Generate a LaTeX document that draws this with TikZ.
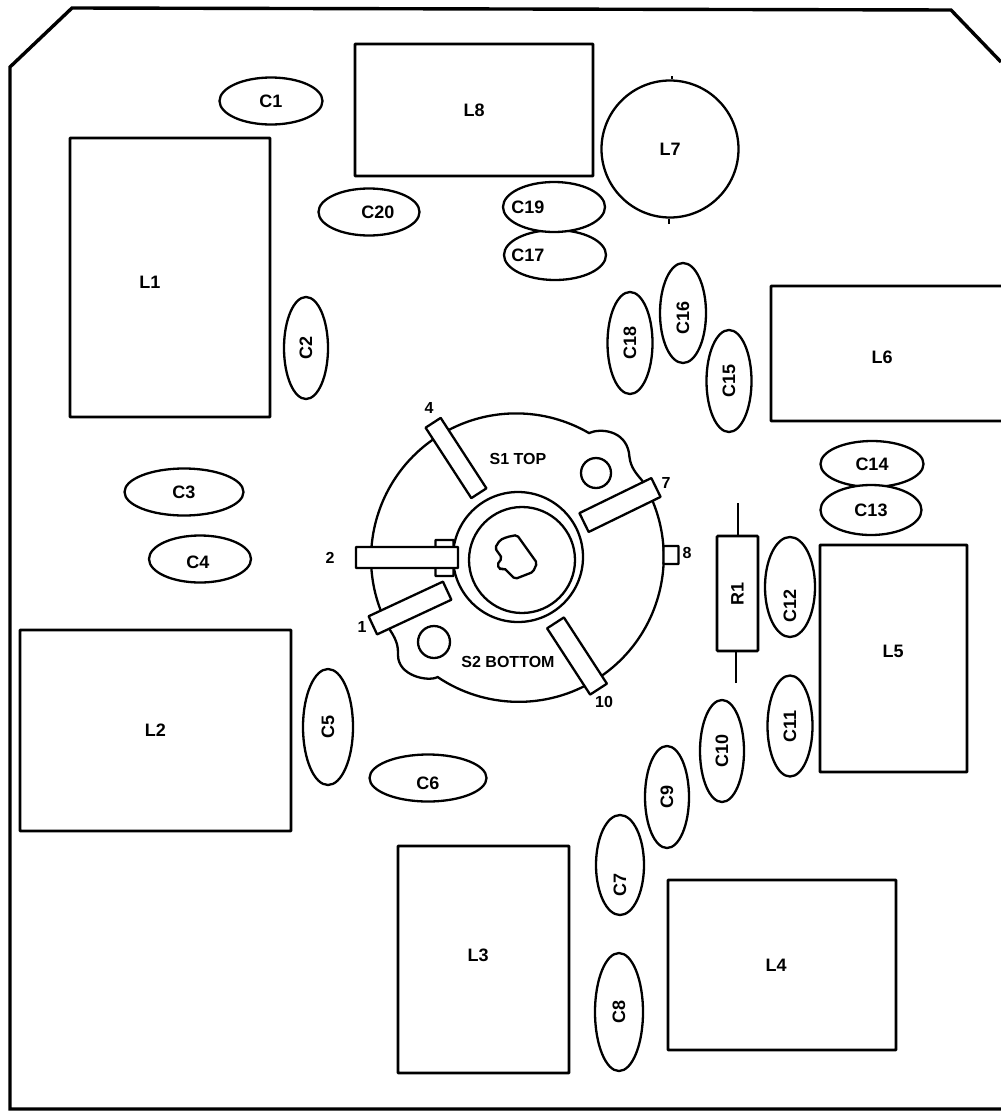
\documentclass[tikz,border=0pt]{standalone}
\usepackage{fontspec}
\setmainfont{Liberation Sans}
\usetikzlibrary{shapes.geometric}
\begin{document}
\begin{tikzpicture}[x=1pt,y=-1pt,
      line width=2.3pt,
      every node/.append style={font=\fontsize{18}{20}\selectfont\bfseries,inner sep=0pt,align=center},
      coil/.style={draw,rectangle,fill=white,line width=2.7pt,rounded corners=0.5pt},
      capa/.style={draw,ellipse,fill=white},
      lug/.style={draw,rectangle,fill=white,rounded corners=0.5pt},
      swtext/.style={font=\fontsize{16}{18}\selectfont\bfseries}]
      \useasboundingbox (0,0) rectangle (1001,1111);
      % board outline
         \draw[line width=3.4pt] (1001,62)--(951,10)--(72,8)--(10,67)--(10,1109)--(1001,1109);
      % coils
         \node (L8) at (474,110) [coil,minimum width=238,minimum height=132]{L8};
         \node (L1) at (170,277.5) [coil,minimum width=200,minimum height=279]{};
         \node (L1text) at (150,282) {L1};
         \node (L6) at (887,353.5) [coil,minimum width=232,minimum height=135]{};
         \node (L6text) at (882,357) {L6};
         \node (L5) at (893.5,658.5) [coil,minimum width=147,minimum height=227]{};
         \node (L5text) at (893,651) {L5};
         \node (L2) at (155.5,730.5) [coil,minimum width=271,minimum height=201]{L2};
         \node (L3) at (483.5,959.5) [coil,minimum width=171,minimum height=227]{};
         \node (L3text) at (478,955) {L3};
         \node (L4) at (782,965) [coil,minimum width=228,minimum height=170]{};
         \node (L4text) at (776,965) {L4};
         \node (L7) at (670,149) [draw,circle,minimum size=137]{L7};
         \coordinate (L7top) at (672,76);
         \coordinate (L7bot) at (669,224);
         \draw (L7top)--(L7top |- L7.north);
         \draw (L7bot)--(L7bot |- L7.south);
      % resistor
         \node (R1) at (737.5,593.5) [coil,rotate=90,minimum width=115,minimum height=41,rounded corners=1pt]{R1};
         \coordinate (R1top) at (738,503);
         \coordinate (R1bot) at (736,683);
         \draw[line width=1.6pt] (R1top)--(R1top |- R1.east);
         \draw[line width=1.6pt] (R1bot)--(R1bot |- R1.west);
      % capacitors
         \node (C1) at (271,101) [capa,minimum width=103,minimum height=47]{C1};
         \node (C20) at (369,212) [capa,minimum width=101,minimum height=47]{};
         \node (C20text) at (378,212) {C20};
         \node (C17) at (555,255) [capa,minimum width=102,minimum height=50]{};
         \node (C17text) at (528,255) {C17};
         \node (C19) at (554,207) [capa,minimum width=102,minimum height=50]{};
         \node (C19text) at (528,207) {C19};
         \node (C2) at (306,348) [capa,rotate=90,minimum width=102,minimum height=44]{C2};
         \node (C18) at (630,343) [capa,rotate=90,minimum width=102,minimum height=45]{C18};
         \node (C15) at (729,381) [capa,rotate=90,minimum width=102,minimum height=45]{C15};
         \node (C16) at (683,313) [capa,rotate=90,minimum width=100,minimum height=46]{};
         \node (C16text) at (683,318) [rotate=90]{C16};
         \node (C14) at (872,464) [capa,minimum width=103,minimum height=46]{C14};
         \node (C13) at (871,510) [capa,minimum width=101,minimum height=50]{C13};
         \node (C12) at (790,587) [capa,rotate=90,minimum width=100,minimum height=50]{};
         \node (C12text) at (790,606) [rotate=90]{C12};
         \node (C11) at (790,726) [capa,rotate=90,minimum width=101,minimum height=45]{C11};
         \node (C10) at (722,751) [capa,rotate=90,minimum width=102,minimum height=44]{C10};
         \node (C9) at (667,797) [capa,rotate=90,minimum width=102,minimum height=44]{C9};
         \node (C7) at (620,865) [capa,rotate=90,minimum width=100,minimum height=48]{};
         \node (C7text) at (620,885) [rotate=90]{C7};
         \node (C8) at (619,1012) [capa,rotate=90,minimum width=118,minimum height=48]{C8};
         \node (C5) at (328,727) [capa,rotate=90,minimum width=116,minimum height=50]{C5};
         \node (C6) at (428,778) [capa,minimum width=117,minimum height=47]{};
         \node (C6text) at (428,783) {C6};
         \node (C3) at (184,492) [capa,minimum width=119,minimum height=47]{C3};
         \node (C4) at (200,559) [capa,minimum width=102,minimum height=47]{};
         \node (C4text) at (198,562) {C4};
      %
      % switch body, two lobes
         \draw (641.7,480) arc[start angle=-32,end angle=124,radius=145]
            .. controls (428,682) and (398,676) .. (398,655)
            .. controls (398,648) and (398,642) .. (390,630)
            arc[start angle=150.4,end angle=300.2,radius=145]
            .. controls (600,428) and (625,430) .. (629,453)
            .. controls (630,465) and (633,470) .. (641.7,480);
         \node (hole1) at (596,473) [draw,circle,minimum size=30]{};
         \node (hole2) at (434,642) [draw,circle,minimum size=32]{};
         \node (ring) at (518,557) [draw,circle,minimum size=130]{};
         \node (shaft) at (522,560) [draw,circle,minimum size=106]{};
         \draw[rounded corners=2pt] (495,548)--(500,540)--(507,537)--(517,535)--(537,563)--(533,572)--(515,579)--(504,568)--(501,570)--(497,565)--(502,558)--cycle;
      % lugs
         \node (stub) at (444.5,558) [lug,minimum width=18,minimum height=36]{};
         \node (lug2) at (407,557.5) [lug,minimum width=102,minimum height=21]{};
         \node (lug4) at (456,458) [lug,rotate=-57,minimum width=84,minimum height=18]{};
         \node (lug7) at (620,505) [lug,rotate=26,minimum width=80,minimum height=21]{};
         \node (lug1) at (410,608) [lug,rotate=25,minimum width=82,minimum height=20]{};
         \node (lug10) at (577,656) [lug,rotate=-57,minimum width=79,minimum height=20]{};
         \node (lug8) at (671,555) [lug,minimum width=15,minimum height=18]{};
      % switch texts
         \node (top) at (518,459) [swtext]{S1 TOP};
         \node (bottom) at (508,662) [swtext]{S2 BOTTOM};
         \node (n4) at (429,408) [swtext]{4};
         \node (n7) at (666,483) [swtext]{7};
         \node (n2) at (330,558) [swtext]{2};
         \node (n1) at (362,627) [swtext]{1};
         \node (n10) at (604,702) [swtext]{10};
         \node (n8) at (687,553) [swtext]{8};
   \end{tikzpicture}
\end{document}
